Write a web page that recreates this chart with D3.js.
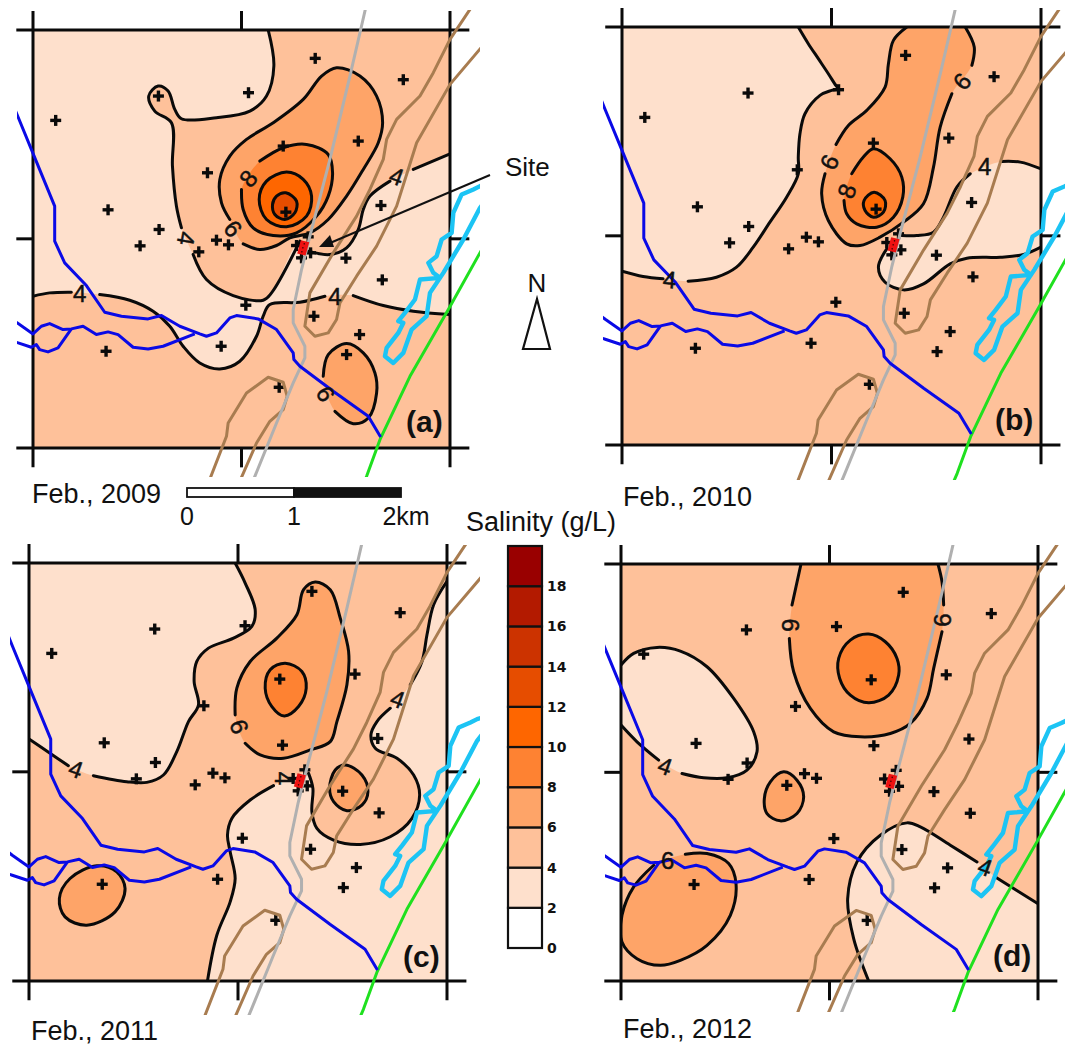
<!DOCTYPE html>
<html><head><meta charset="utf-8">
<script src="https://cdn.jsdelivr.net/npm/d3@7/dist/d3.min.js"></script>
<style>html,body{margin:0;padding:0;background:#fff}svg{display:block}text{font-family:"Liberation Sans",Arial,sans-serif;fill:#111}</style>
</head><body><svg id="c" width="1065" height="1045"></svg>
<script>
// Salinity classes (g/L)
const levels=[0,2,4,6,8,10,12,14,16,18,20];
const levelColors=["#ffffff","#fee0cc","#fec19a","#fea468","#fe8232","#fe6600","#e64d00","#cc3300","#b31a00","#990000"];
const legendTicks=[0,2,4,6,8,10,12,14,16,18];
// Shared map features, in map units of the 2009 panel
const wells=[[946,177],[1210,241],[746,280],[476,290],[168,363],[1075,425],[850,440],[623,520],[325,631],[858,638],[1143,618],[478,690],[421,739],[650,722],[686,736],[597,757],[890,738],[925,712],[932,760],[905,775],[1038,776],[1147,841],[738,917],[942,950],[1079,1005],[664,1040],[319,1055],[1040,1065],[838,1163]];
const river=[[30,290],[50,340],[100,462],[165,620],[165,725],[195,790],[260,858],[315,938],[365,950],[445,958],[485,948],[540,980],[600,1003],[620,1010],[650,1000],[690,955],[710,948],[775,958],[830,990],[880,1060],[882,1080],[900,1100],[1000,1175],[1105,1250],[1142,1312]];
const riverA=[[20,945],[50,968],[100,1003],[125,980],[150,972],[190,990],[215,988],[250,980],[290,1005],[325,997],[355,1005],[400,1043],[445,1048],[490,1040],[585,1003]];
const riverB=[[20,1018],[50,1028],[95,1043],[110,1035],[120,1050],[145,1057],[175,1045],[215,988]];
const road=[[1110,-30],[1082,92],[1050,230],[990,480],[930,710],[905,810],[880,930],[880,970],[915,1040],[915,1075],[880,1150],[830,1270],[765,1430],[740,1490]];
const dykeEast=[[1450,-30],[1350,120],[1300,220],[1260,290],[1190,360],[1160,420],[1150,480],[1110,570],[1070,650],[1000,760],[930,880],[915,980],[945,1010],[985,1000],[1010,960],[1020,910],[1070,830],[1130,740],[1190,620],[1250,430],[1350,255],[1490,90]];
const dykeSouth=[[610,1490],[680,1310],[685,1270],[740,1180],[805,1133],[850,1148],[862,1190],[850,1230],[810,1265],[770,1330],[700,1490]];
const canal=[[1490,545],[1440,560],[1420,570],[1385,585],[1360,640],[1355,700],[1325,720],[1310,770],[1285,790],[1300,820],[1320,835],[1260,840],[1245,900],[1215,940],[1195,965],[1210,970],[1195,1000],[1160,1045],[1155,1070],[1180,1090],[1210,1060],[1235,990],[1280,950],[1290,880],[1330,820],[1390,720],[1440,625],[1490,560]];
const coast=[[1490,670],[1345,930],[1230,1130],[1140,1320],[1100,1430],[1070,1500]];
const sitePoly=[[903,722],[928,728],[917,768],[892,762]];
const siteDots=[[913,733],[909,745],[906,757]];
const gridX=[100,725,1350], gridY=[92,718,1345], extX=[50,1408], extY=[35,1403];

// Contours 2009
const a_low={level:1,runs:[[[805,92],[822,200],[800,290],[750,335],[650,355],[545,358],[525,330],[505,275],[475,260],[447,290],[465,335],[515,370],[518,500],[530,620],[545,685],null,[580,765],[620,840],[700,888],[790,902],[815,880],[900,725],null,[925,755],[990,765],[1040,745],[1075,690],[1090,630],[1110,590],[1170,545],null,[1240,510],[1350,463]],
 [[1350,945],[1240,935],[1150,918],[1060,888],null,[975,890],[900,908],[810,915],[790,950],[770,1010],[720,1085],[660,1108],[600,1090],[550,1040],[510,980],[460,935],[390,902],[300,885],null,[215,878],[150,880],[100,890]]],links:[[],[[100,92]]]};
const a_6={level:3,closed:true,open:true,runs:[[[730,733],[780,750],[830,738],[870,715],[930,700],[985,660],[1040,590],[1090,510],[1135,430],[1148,370],[1130,290],[1080,230],[1010,205],[965,230],[910,300],[820,370],[740,420],[690,470],[660,540],[665,610],[690,660]]]};
const a_8={level:4,closed:true,open:true,runs:[[[780,485],[850,445],[920,435],[985,465],[998,520],[985,590],[950,650],[890,700],[820,708],[760,685],[730,630],[725,570]]]};
const a_10={level:5,closed:true,runs:[[[860,518],[910,540],[935,590],[920,650],[860,682],[800,660],[778,600],[800,545]]]};
const a_12={level:6,closed:true,runs:[[[858,580],[890,605],[885,640],[855,660],[825,645],[818,615],[830,590]]]};
const a_6b={level:3,closed:true,open:true,runs:[[[970,1130],[985,1065],[1040,1032],[1090,1060],[1125,1120],[1130,1180],[1105,1255],[1060,1272],[1005,1235]]]};
const a_labels=[["4",240,882,0],["4",1005,890,0],["4",560,717,100],["4",1190,530,20],["6",700,687,50],["8",745,537,-50],["6",978,1182,60]];
// Contours 2010
const b_low={level:1,runs:[[[625,80],[655,130],[685,175],[715,220],[738,256],[745,265],[725,270],[690,285],[645,340],[630,400],[625,470],[625,520],[590,590],[540,665],[490,740],[440,800],[380,830],[295,842],null,[220,835],[160,828],[97,812]]],links:[[[97,80]]]};
const b_lowE={level:1,runs:[[[1352,505],[1290,485],[1235,483],null,[1140,520],[1100,560],[1060,650],[1030,695],[980,705],[935,705],null,[890,745],[865,800],[885,845],[940,868],[1000,850],[1080,790],[1130,773],[1230,770],[1300,762],[1352,740]]]};
const b_6={level:3,runs:[[[950,80],[910,120],[895,190],[885,260],[830,330],[775,375],[738,432],null,[705,520],[695,580],[715,660],[770,730],[810,735],[870,710],[940,665],[1000,610],[1030,500],[1050,380],[1085,280],null,[1145,195],[1152,140],[1125,80]]]};
const b_8={level:4,closed:true,open:true,runs:[[[785,520],[820,470],[850,445],[900,475],[935,530],[938,590],[910,650],[860,680],[800,670],[770,640],[762,600]]]};
const b_10={level:5,closed:true,runs:[[[852,575],[885,600],[880,635],[850,650],[825,630],[822,600]]]};
const b_labels=[["4",240,837,5],["4",1183,497,0],["6",718,485,-65],["8",770,572,-70],["6",1115,243,-50]];
// Contours 2011
const c_low={level:1,runs:[[[705,115],[735,175],[765,255],[755,305],[700,340],[625,370],[590,410],[582,470],[595,540],[565,590],[530,680],[490,750],[440,772],[380,770],[280,752],null,[205,722],[150,685],[87,642]]],links:[[[87,115]]]};
const c_lowE={level:1,runs:[[[1340,170],[1300,240],[1280,330],[1265,410],[1230,480],null,[1170,550],[1130,590],[1112,630],[1125,670],[1190,700],[1240,750],[1258,810],[1235,880],[1170,935],[1080,958],[1000,945],[950,910],[935,860],[938,790],[925,745],null,[820,782],[750,825],[695,880],[682,930],[690,980],[705,1060],[690,1130],[650,1230],[622,1367]]],links:[[[1340,1367]]]};
const c_6={level:3,closed:true,open:true,runs:[[[705,570],[710,490],[750,410],[830,340],[890,270],[910,195],[945,172],[990,195],[1020,280],[1045,380],[1040,480],[1010,590],[990,650],[930,675],[850,700],[780,690],[735,655]]]};
const c_8={level:4,closed:true,runs:[[[855,415],[905,440],[918,490],[895,545],[852,573],[815,545],[795,490],[810,435]]]};
const c_6e={level:3,closed:true,runs:[[[1035,720],[1085,750],[1103,800],[1085,840],[1040,857],[1000,830],[988,790],[1005,735]]]};
const c_6w={level:3,closed:true,runs:[[[290,1022],[350,1040],[375,1090],[345,1160],[260,1200],[195,1175],[178,1120],[210,1060]]]};
const c_labels=[["4",228,732,20],["4",1192,522,20],["4",850,760,90],["6",718,605,70]];
// Contours 2012
const d_low={level:1,runs:[[[92,420],[130,385],[200,367],[270,378],[350,425],[430,520],[490,620],[500,680],[470,735],[410,758],[340,758],[275,745],null,[205,705],[140,650],[92,600]]]};
const d_lowE={level:1,runs:[[[835,1367],[790,1240],[772,1120],[800,1010],[870,930],[950,893],[990,905],[1080,960],[1160,1010],null,[1215,1055],[1342,1135]]],links:[[[1342,1367]]]};
const d_6={level:3,runs:[[[632,117],[605,240],null,[597,340],[610,440],[660,550],[730,620],[810,635],[900,625],[960,595],[1010,520],[1030,430],[1055,320],null,[1060,240],[1055,170],[1043,117]]]};
const d_8={level:4,closed:true,runs:[[[835,327],[885,350],[920,400],[925,450],[895,510],[835,533],[780,510],[748,460],[745,400],[780,345]]]};
const d_6s={level:3,closed:true,runs:[[[580,740],[620,765],[640,815],[620,865],[570,887],[530,865],[522,820],[540,770]]]};
const d_6w={level:3,closed:true,open:true,runs:[[[285,987],[350,985],[415,1015],[437,1075],[420,1170],[350,1260],[270,1305],[210,1320],[140,1300],[95,1250],[95,1170],[130,1085],[190,1020]]]};
const d_labels=[["4",225,722,20],["4",1185,1025,20],["6",600,300,90],["6",1055,285,-90],["6",232,1005,0]];

const panels=[
 {x:[33,450],y:[30,448],clip:[17,10,463,467],local:[[100,1350],[92,1345]],regions:[a_low,a_6,a_8,a_10,a_12,a_6b],labels:a_labels,tag:"(a)",tagPos:[406,432],date:"Feb., 2009",datePos:[32,503]},
 {x:[622,1041],y:[27,445],clip:[603,10,462,470],local:[[97,1352],[80,1333]],regions:[b_low,b_lowE,b_6,b_8,b_10],labels:b_labels,tag:"(b)",tagPos:[995,430],date:"Feb., 2010",datePos:[623,506]},
 {x:[29,447],y:[563,981],clip:[10,545,470,470],local:[[87,1340],[115,1367]],regions:[c_low,c_lowE,c_6,c_8,c_6e,c_6w],labels:c_labels,tag:"(c)",tagPos:[403,967],date:"Feb., 2011",datePos:[31,1040]},
 {x:[621,1038],y:[564,981],clip:[605,545,460,467],local:[[92,1343],[117,1367]],regions:[d_low,d_lowE,d_6,d_8,d_6s,d_6w],labels:d_labels,tag:"(d)",tagPos:[993,966],date:"Feb., 2012",datePos:[623,1038]}
];

const svg=d3.select("#c");
const colorOf=d3.scaleOrdinal().domain(d3.range(10)).range(levelColors);
const defs=svg.append("defs");
panels.forEach((p,i)=>{
  defs.append("clipPath").attr("id","clip"+i).append("rect").attr("x",p.clip[0]).attr("y",p.clip[1]).attr("width",p.clip[2]).attr("height",p.clip[3]);
  defs.append("clipPath").attr("id","frame"+i).append("rect").attr("x",p.x[0]).attr("y",p.y[0]).attr("width",p.x[1]-p.x[0]).attr("height",p.y[1]-p.y[0]);
  const lx=d3.scaleLinear().domain(p.local[0]).range(p.x), ly=d3.scaleLinear().domain(p.local[1]).range(p.y);
  const mx=d3.scaleLinear().domain([100,1350]).range(p.x), my=d3.scaleLinear().domain([92,1345]).range(p.y);
  const g=svg.append("g");
  g.append("rect").attr("x",p.x[0]).attr("y",p.y[0]).attr("width",p.x[1]-p.x[0]).attr("height",p.y[1]-p.y[0]).attr("fill",colorOf(2));
  const curve=(f)=>d3.line().defined(d=>d).x(d=>lx(d[0])).y(d=>ly(d[1])).curve(f);
  const cr=curve(d3.curveCatmullRom.alpha(.5)), crc=curve(d3.curveCatmullRomClosed.alpha(.5));
  const cg=g.append("g").attr("clip-path",`url(#frame${i})`);
  p.regions.forEach(r=>{
    let fd;
    if(r.closed){fd=crc(r.runs[0].filter(Boolean));}
    else{
      fd=r.runs.map((run,k)=>{
        let s=cr(run.filter(Boolean));
        if(k>0)s="L"+s.slice(1);
        const links=(r.links&&r.links[k])||[];
        links.forEach(c=>{s+=`L${lx(c[0])},${ly(c[1])}`;});
        return s;
      }).join("")+"Z";
    }
    cg.append("path").attr("d",fd).attr("fill",colorOf(r.level));
    r.runs.forEach(run=>{
      const sd=(r.closed&&!r.open)?crc(run):cr(run);
      cg.append("path").attr("d",sd).attr("fill","none").attr("stroke","#0a0a0a").attr("stroke-width",3).attr("stroke-linecap","round");
    });
  });
  const fr=g.append("g").attr("stroke","#0a0a0a").attr("stroke-width",3);
  [gridY[0],gridY[2]].forEach(v=>fr.append("line").attr("x1",mx(extX[0])).attr("x2",mx(extX[1])).attr("y1",my(v)).attr("y2",my(v)));
  [gridX[0],gridX[2]].forEach(v=>fr.append("line").attr("y1",my(extY[0])).attr("y2",my(extY[1])).attr("x1",mx(v)).attr("x2",mx(v)));
  [[extX[0],gridX[0]],[gridX[2],extX[1]]].forEach(e=>fr.append("line").attr("x1",mx(e[0])).attr("x2",mx(e[1])).attr("y1",my(gridY[1])).attr("y2",my(gridY[1])));
  [[extY[0],gridY[0]],[gridY[2],extY[1]]].forEach(e=>fr.append("line").attr("y1",my(e[0])).attr("y2",my(e[1])).attr("x1",mx(gridX[1])).attr("x2",mx(gridX[1])));
  // wells
  const wl=g.append("g").attr("stroke","#0a0a0a").attr("stroke-width",3.4);
  wells.forEach(w=>{
    wl.append("line").attr("x1",mx(w[0])-5.5).attr("x2",mx(w[0])+5.5).attr("y1",my(w[1])).attr("y2",my(w[1]));
    wl.append("line").attr("y1",my(w[1])-5.5).attr("y2",my(w[1])+5.5).attr("x1",mx(w[0])).attr("x2",mx(w[0]));
  });
  const fg=g.append("g").attr("clip-path",`url(#clip${i})`).attr("fill","none").attr("stroke-linejoin","round");
  const ml=d3.line().x(d=>mx(d[0])).y(d=>my(d[1]));
  [[dykeEast,"#a87c50",3],[dykeSouth,"#a87c50",3],[road,"#b0b0b0",3],[canal,"#1cc4f4",4.4],[coast,"#1fe01f",3],[river,"#0a0ae6",3],[riverA,"#0a0ae6",3],[riverB,"#0a0ae6",3]].forEach(f=>{
    fg.append("path").attr("d",ml(f[0])).attr("stroke",f[1]).attr("stroke-width",f[2]);
  });
  g.append("path").attr("d",ml(sitePoly)+"Z").attr("fill","#ee1111");
  siteDots.forEach(s=>g.append("circle").attr("cx",mx(s[0])).attr("cy",my(s[1])).attr("r",.8).attr("fill","#400"));
  p.labels.forEach(l=>{
    g.append("text").attr("transform",`translate(${lx(l[1])},${ly(l[2])}) rotate(${l[3]})`).attr("text-anchor","middle").attr("dy",".36em").attr("font-size",24).attr("stroke","#111").attr("stroke-width",.5).text(l[0]);
  });
  g.append("text").attr("x",p.tagPos[0]).attr("y",p.tagPos[1]).attr("font-size",30).attr("font-weight","bold").text(p.tag);
  g.append("text").attr("x",p.datePos[0]).attr("y",p.datePos[1]).attr("font-size",27).text(p.date);
});

// Site annotation
svg.append("text").attr("x",505).attr("y",176).attr("font-size",26).text("Site");
svg.append("line").attr("x1",490).attr("y1",175).attr("x2",330).attr("y2",243).attr("stroke","#111").attr("stroke-width",2);
svg.append("path").attr("d",d3.line()([[319,247],[330,235],[334,247]])+"Z").attr("fill","#111");

// Scale bar
const km=d3.scaleLinear().domain([0,2]).range([187,401]);
const barSeg=[[0,1,"#fff"],[1,2,"#111"]];
barSeg.forEach(s=>svg.append("rect").attr("x",km(s[0])).attr("y",488).attr("width",km(s[1])-km(s[0])).attr("height",9).attr("fill",s[2]).attr("stroke","#111").attr("stroke-width",1.8));
[[0,"0"],[1,"1"],[2,"2km"]].forEach(t=>svg.append("text").attr("x",t[0]===2?km(t[0])+5:km(t[0])).attr("y",525).attr("text-anchor","middle").attr("font-size",25).text(t[1]));

// North arrow
svg.append("text").attr("x",537).attr("y",292).attr("text-anchor","middle").attr("font-size",26).text("N");
svg.append("path").attr("d",d3.line()([[537,299],[523,349],[550,349]])+"Z").attr("fill","#fff").attr("stroke","#111").attr("stroke-width",2.2);

// Legend
const ly=d3.scaleLinear().domain([0,20]).range([948,546]);
svg.append("text").attr("x",466).attr("y",531).attr("font-size",27).text("Salinity (g/L)");
d3.range(10).forEach(k=>svg.append("rect").attr("x",508).attr("width",34).attr("y",ly(levels[k+1])).attr("height",ly(levels[k])-ly(levels[k+1])).attr("fill",levelColors[k]).attr("stroke","#111").attr("stroke-width",2.2));
legendTicks.forEach(v=>svg.append("text").attr("x",547).attr("y",ly(v)).attr("dy",".36em").attr("style",'font-family:"DejaVu Sans";font-weight:bold;font-size:14px').text(v));
</script></body></html>
